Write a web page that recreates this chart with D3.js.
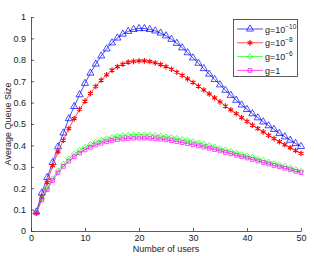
<!DOCTYPE html>
<html>
<head>
<meta charset="utf-8">
<script src="https://cdn.jsdelivr.net/npm/d3@7"></script>
<style>
  body { margin: 0; background: #fff; }
  text { font-family: "Liberation Sans", Arial, sans-serif; }
</style>
</head>
<body>
<div id="container"></div>
<script>
// number of users 1..50
var users = d3.range(1, 51);

// average queue size
var g10 = [0.089, 0.178, 0.25, 0.32, 0.394, 0.458, 0.525, 0.582, 0.637, 0.69,
           0.738, 0.78, 0.818, 0.851, 0.879, 0.902, 0.92, 0.933, 0.942, 0.946,
           0.946, 0.942, 0.935, 0.925, 0.912, 0.896, 0.877, 0.856, 0.833, 0.809,
           0.784, 0.759, 0.733, 0.708, 0.683, 0.658, 0.634, 0.611, 0.589, 0.568,
           0.548, 0.529, 0.51, 0.492, 0.475, 0.456, 0.44, 0.424, 0.409, 0.395];
var g8  = [0.085, 0.16, 0.226, 0.305, 0.37, 0.425, 0.478, 0.525, 0.568, 0.607,
           0.643, 0.676, 0.705, 0.73, 0.752, 0.768, 0.78, 0.789, 0.793, 0.795,
           0.795, 0.792, 0.786, 0.778, 0.768, 0.756, 0.742, 0.727, 0.711, 0.694,
           0.677, 0.659, 0.641, 0.622, 0.603, 0.584, 0.566, 0.548, 0.53, 0.512,
           0.495, 0.479, 0.463, 0.447, 0.432, 0.417, 0.403, 0.389, 0.376, 0.363];
var g6  = [0.085, 0.15, 0.2, 0.245, 0.282, 0.313, 0.338, 0.359, 0.377, 0.392,
           0.405, 0.416, 0.425, 0.432, 0.438, 0.443, 0.446, 0.448, 0.45, 0.45,
           0.45, 0.449, 0.447, 0.444, 0.441, 0.437, 0.433, 0.428, 0.423, 0.418,
           0.412, 0.406, 0.4, 0.393, 0.386, 0.379, 0.372, 0.365, 0.358, 0.351,
           0.344, 0.337, 0.33, 0.323, 0.316, 0.309, 0.302, 0.295, 0.288, 0.28];
var g1  = [0.083, 0.145, 0.193, 0.236, 0.272, 0.302, 0.326, 0.347, 0.364, 0.379,
           0.391, 0.402, 0.41, 0.417, 0.423, 0.427, 0.43, 0.432, 0.434, 0.434,
           0.434, 0.433, 0.431, 0.429, 0.426, 0.422, 0.418, 0.413, 0.408, 0.403,
           0.398, 0.392, 0.386, 0.38, 0.374, 0.367, 0.361, 0.354, 0.347, 0.341,
           0.334, 0.327, 0.32, 0.313, 0.306, 0.3, 0.293, 0.286, 0.279, 0.273];

var xTicks = [0, 10, 20, 30, 40, 50];
var yTicks = [0, 0.1, 0.2, 0.3, 0.4, 0.5, 0.6, 0.7, 0.8, 0.9, 1];

var series = [
  {name: "g=10", exp: "\u221210", values: g10, color: "#0000ff", marker: "triangle"},
  {name: "g=10", exp: "\u22128",  values: g8,  color: "#ff0000", marker: "star"},
  {name: "g=10", exp: "\u22126",  values: g6,  color: "#00ff00", marker: "diamond"},
  {name: "g=1",  exp: "",         values: g1,  color: "#ff00ff", marker: "square"}
];

var width = 314, height = 256;
var margin = {top: 17, right: 13, bottom: 25, left: 31};

var svg = d3.select("#container").append("svg")
  .attr("width", width)
  .attr("height", height);

var x = d3.scaleLinear().domain([0, 50]).range([margin.left, width - margin.right]);
var y = d3.scaleLinear().domain([0, 1]).range([height - margin.bottom, margin.top]);

// axes (matlab style: ticks inside)
var xAxis = svg.append("g")
  .attr("transform", "translate(0," + y(0) + ")")
  .call(d3.axisBottom(x).tickValues(xTicks).tickSizeInner(-3).tickSizeOuter(0).tickPadding(4));
var yAxis = svg.append("g")
  .attr("transform", "translate(" + x(0) + ",0)")
  .call(d3.axisLeft(y).tickValues(yTicks).tickSizeInner(-3).tickSizeOuter(0).tickPadding(5)
    .tickFormat(function(d) { return d === 0 || d === 1 ? d : d.toFixed(1); }));

[xAxis, yAxis].forEach(function(a) {
  a.selectAll("path, line").attr("stroke", "#333").attr("stroke-width", 0.8);
  a.selectAll("text").attr("fill", "#222").style("font-size", "9px")
    .style("font-family", "'Liberation Sans', Arial, sans-serif");
});

svg.append("text")
  .attr("x", (x(0) + x(50)) / 2)
  .attr("y", 252)
  .attr("text-anchor", "middle")
  .style("font-size", "9px")
  .attr("fill", "#222")
  .text("Number of users");

svg.append("text")
  .attr("transform", "translate(11," + y(0.5) + ") rotate(-90)")
  .attr("text-anchor", "middle")
  .style("font-size", "9px")
  .attr("fill", "#222")
  .text("Average Queue Size");

var symbolType = {
  triangle: d3.symbolTriangle,
  star: d3.symbolAsterisk,
  diamond: d3.symbolDiamond2,
  square: d3.symbolSquare2
};
var symbolSize = {triangle: 22, star: 22, diamond: 20, square: 18};

function drawMarker(g, s, cx, cy) {
  var path = d3.symbol().type(symbolType[s.marker]).size(symbolSize[s.marker]);
  g.append("path")
    .attr("d", path)
    .attr("transform", "translate(" + cx + "," + cy + ")")
    .attr("fill", "none")
    .attr("stroke", s.color)
    .attr("stroke-width", s.marker === "star" ? 1.1 : 0.7);
}

var line = d3.line()
  .x(function(d, i) { return x(users[i]); })
  .y(function(d) { return y(d); });

series.forEach(function(s) {
  var g = svg.append("g");
  g.append("path")
    .datum(s.values)
    .attr("d", line)
    .attr("fill", "none")
    .attr("stroke", s.color)
    .attr("stroke-width", 0.7);
  s.values.forEach(function(v, i) {
    drawMarker(g, s, x(users[i]), y(v));
  });
});

// legend
var legend = svg.append("g");
legend.append("rect")
  .attr("x", 233.5).attr("y", 19.5)
  .attr("width", 64).attr("height", 57)
  .attr("fill", "#fff")
  .attr("stroke", "#333")
  .attr("stroke-width", 0.8);

series.forEach(function(s, i) {
  var ly = 29 + i * 13.8;
  legend.append("line")
    .attr("x1", 237).attr("x2", 263)
    .attr("y1", ly).attr("y2", ly)
    .attr("stroke", s.color).attr("stroke-width", 0.7);
  drawMarker(legend, s, 250, ly);
  var t = legend.append("text")
    .attr("x", 265).attr("y", ly + 3.5)
    .style("font-size", "9px")
    .attr("fill", "#222");
  t.append("tspan").text(s.name);
  if (s.exp) {
    t.append("tspan")
      .attr("dy", -4)
      .style("font-size", "6.5px")
      .text(s.exp);
  }
});
</script>
</body>
</html>
